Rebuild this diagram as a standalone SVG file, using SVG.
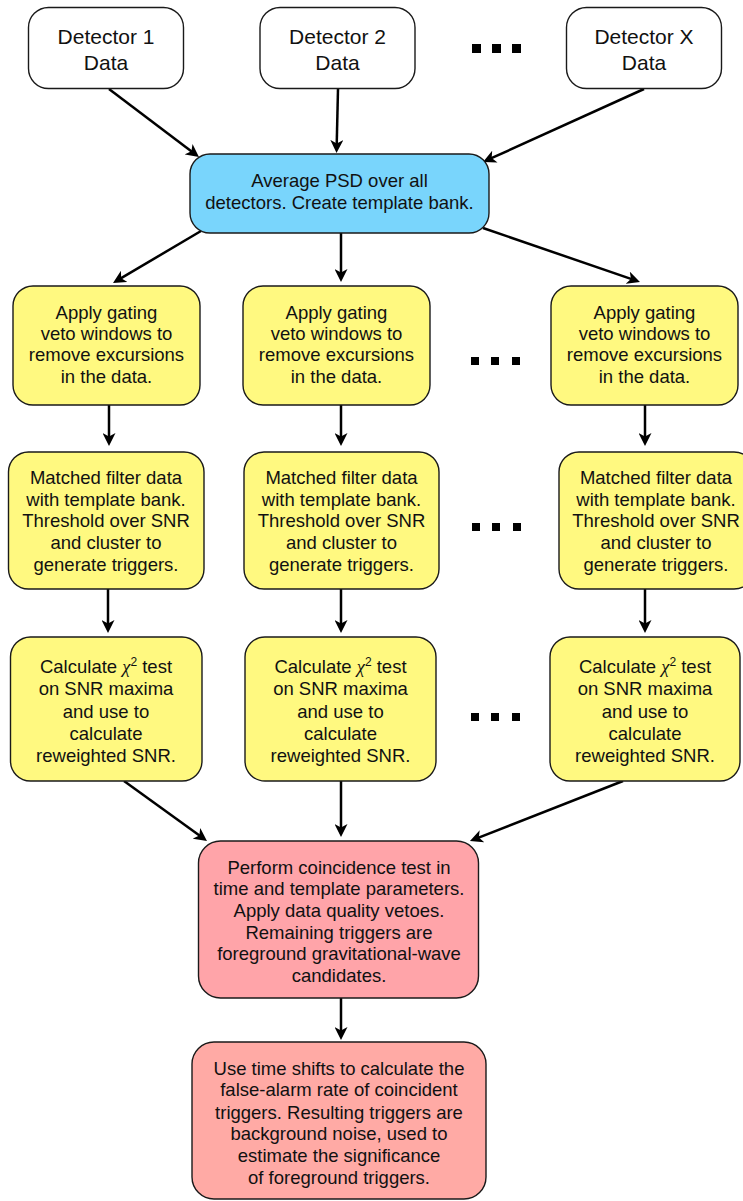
<svg xmlns="http://www.w3.org/2000/svg" width="743" height="1201" viewBox="0 0 743 1201">
<style>
.box{stroke:#1a1a1a;stroke-width:1.4}
.white{fill:#ffffff}
.blue{fill:#79d5fc}
.yellow{fill:#fff980}
.pink1{fill:#ffa4a9}
.pink2{fill:#ffaaa5}
text{font-family:"Liberation Sans",Arial,sans-serif;font-size:18.5px;fill:#111;text-anchor:middle}
.big{font-size:21px}
.conn line{stroke:#000;stroke-width:2.5;marker-end:url(#arr)}
.dots rect{fill:#000}
.chi{font-family:"Liberation Serif","Times New Roman",serif;font-style:italic}
</style>
<defs>
<marker id="arr" markerUnits="userSpaceOnUse" markerWidth="13" markerHeight="13" viewBox="0 0 13 13" refX="5" refY="6.5" orient="auto">
<path d="M0,0 L13,6.5 L0,13 L3.5,6.5 z" fill="#000"/>
</marker>
</defs>

<g class="conn">
<line x1="109" y1="89" x2="192.6" y2="152.2"/>
<line x1="338" y1="89" x2="336.7" y2="145"/>
<line x1="644" y1="89" x2="490.3" y2="158.7"/>
<line x1="201" y1="231" x2="119.9" y2="278.9"/>
<line x1="341" y1="233" x2="341" y2="274"/>
<line x1="483" y1="228" x2="632.4" y2="279.4"/>
<line x1="109" y1="405" x2="109" y2="438"/>
<line x1="341" y1="405" x2="341" y2="438"/>
<line x1="645" y1="405" x2="645" y2="438"/>
<line x1="108" y1="589" x2="108" y2="625"/>
<line x1="341" y1="589" x2="341" y2="625"/>
<line x1="645" y1="589" x2="645" y2="625"/>
<line x1="124" y1="781" x2="200.5" y2="836.3"/>
<line x1="341" y1="781" x2="341" y2="829"/>
<line x1="623" y1="781" x2="477.4" y2="838.1"/>
<line x1="341" y1="998" x2="341" y2="1032"/>
</g>

<g class="dots">
<rect x="472" y="44" width="9" height="9"/><rect x="492" y="44" width="9" height="9"/><rect x="512" y="44" width="9" height="9"/>
<rect x="471" y="357" width="8" height="8"/><rect x="491" y="357" width="8" height="8"/><rect x="512" y="357" width="8" height="8"/>
<rect x="472" y="523" width="8" height="8"/><rect x="492" y="523" width="8" height="8"/><rect x="513" y="523" width="8" height="8"/>
<rect x="471" y="713" width="8" height="8"/><rect x="491" y="713" width="8" height="8"/><rect x="512" y="713" width="8" height="8"/>
</g>

<g id="det1">
<rect class="box white" x="28.5" y="7.5" width="155" height="81" rx="20"/>
<text class="big" x="106" y="43.5">Detector 1</text>
<text class="big" x="106" y="69.5">Data</text>
</g>
<g id="det2">
<rect class="box white" x="260" y="7.5" width="155" height="81" rx="20"/>
<text class="big" x="337.5" y="43.5">Detector 2</text>
<text class="big" x="337.5" y="69.5">Data</text>
</g>
<g id="detx">
<rect class="box white" x="566.5" y="7.5" width="155" height="81" rx="20"/>
<text class="big" x="644" y="43.5">Detector X</text>
<text class="big" x="644" y="69.5">Data</text>
</g>

<g id="psd">
<rect class="box blue" x="190" y="154" width="299" height="79" rx="20"/>
<text x="339.5" y="186.5">Average PSD over all</text>
<text x="339.5" y="208.5">detectors. Create template bank.</text>
</g>

<g id="gate1">
<rect class="box yellow" x="13" y="286" width="187" height="119" rx="20"/>
<text x="106.5" y="318.5">Apply gating</text>
<text x="106.5" y="339.5">veto windows to</text>
<text x="106.5" y="360.5">remove excursions</text>
<text x="106.5" y="382.5">in the data.</text>
</g>
<g id="gate2">
<rect class="box yellow" x="243" y="286" width="187" height="119" rx="20"/>
<text x="336.5" y="318.5">Apply gating</text>
<text x="336.5" y="339.5">veto windows to</text>
<text x="336.5" y="360.5">remove excursions</text>
<text x="336.5" y="382.5">in the data.</text>
</g>
<g id="gate3">
<rect class="box yellow" x="551" y="286" width="187" height="119" rx="20"/>
<text x="644.5" y="318.5">Apply gating</text>
<text x="644.5" y="339.5">veto windows to</text>
<text x="644.5" y="360.5">remove excursions</text>
<text x="644.5" y="382.5">in the data.</text>
</g>

<g id="mf1">
<rect class="box yellow" x="8.5" y="452" width="195.5" height="137" rx="20"/>
<text x="106" y="483.5">Matched filter data</text>
<text x="106" y="505.5">with template bank.</text>
<text x="106" y="526.5">Threshold over SNR</text>
<text x="106" y="548.5">and cluster to</text>
<text x="106" y="570.5">generate triggers.</text>
</g>
<g id="mf2">
<rect class="box yellow" x="244" y="452" width="195" height="137" rx="20"/>
<text x="341.5" y="483.5">Matched filter data</text>
<text x="341.5" y="505.5">with template bank.</text>
<text x="341.5" y="526.5">Threshold over SNR</text>
<text x="341.5" y="548.5">and cluster to</text>
<text x="341.5" y="570.5">generate triggers.</text>
</g>
<g id="mf3">
<rect class="box yellow" x="559" y="452" width="195" height="137" rx="20"/>
<text x="656" y="483.5">Matched filter data</text>
<text x="656" y="505.5">with template bank.</text>
<text x="656" y="526.5">Threshold over SNR</text>
<text x="656" y="548.5">and cluster to</text>
<text x="656" y="570.5">generate triggers.</text>
</g>

<g id="chi1">
<rect class="box yellow" x="10.5" y="637" width="191.5" height="144" rx="20"/>
<text x="106" y="673">Calculate <tspan class="chi">χ</tspan><tspan font-size="12" dy="-7">2</tspan><tspan dy="7"> test</tspan></text>
<text x="106" y="695">on SNR maxima</text>
<text x="106" y="717.5">and use to</text>
<text x="106" y="740">calculate</text>
<text x="106" y="762">reweighted SNR.</text>
</g>
<g id="chi2">
<rect class="box yellow" x="245" y="637" width="191" height="144" rx="20"/>
<text x="340.5" y="673">Calculate <tspan class="chi">χ</tspan><tspan font-size="12" dy="-7">2</tspan><tspan dy="7"> test</tspan></text>
<text x="340.5" y="695">on SNR maxima</text>
<text x="340.5" y="717.5">and use to</text>
<text x="340.5" y="740">calculate</text>
<text x="340.5" y="762">reweighted SNR.</text>
</g>
<g id="chi3">
<rect class="box yellow" x="550" y="637" width="190" height="144" rx="20"/>
<text x="645" y="673">Calculate <tspan class="chi">χ</tspan><tspan font-size="12" dy="-7">2</tspan><tspan dy="7"> test</tspan></text>
<text x="645" y="695">on SNR maxima</text>
<text x="645" y="717.5">and use to</text>
<text x="645" y="740">calculate</text>
<text x="645" y="762">reweighted SNR.</text>
</g>

<g id="coinc">
<rect class="box pink1" x="198.5" y="841" width="280" height="157" rx="22"/>
<text x="339" y="873.5">Perform coincidence test in</text>
<text x="339" y="894.5">time and template parameters.</text>
<text x="339" y="916.5">Apply data quality vetoes.</text>
<text x="339" y="938.5">Remaining triggers are</text>
<text x="339" y="959.5">foreground gravitational-wave</text>
<text x="339" y="981.5">candidates.</text>
</g>

<g id="bg">
<rect class="box pink2" x="192" y="1042" width="294" height="157" rx="22"/>
<text x="339" y="1074.5">Use time shifts to calculate the</text>
<text x="339" y="1095.5">false-alarm rate of coincident</text>
<text x="339" y="1118.5">triggers. Resulting triggers are</text>
<text x="339" y="1139.5">background noise, used to</text>
<text x="339" y="1161.5">estimate the significance</text>
<text x="339" y="1183.5">of foreground triggers.</text>
</g>
</svg>
